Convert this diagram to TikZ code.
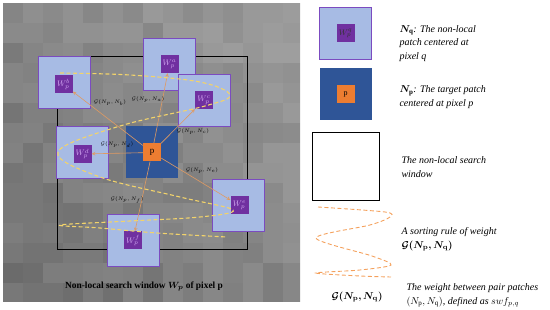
\documentclass[tikz,border=0pt]{standalone}
\usepackage{amsmath,amssymb,bm}
\usepackage{fontspec}
\setmainfont{Liberation Serif}
\usepackage{xcolor}
\usepackage{tikz}
\usetikzlibrary{arrows, positioning, calc}

\definecolor{patchblue}{HTML}{A7BBE4}
\definecolor{patchedge}{HTML}{7B4BC0}
\definecolor{innerpurple}{HTML}{7030A0}
\definecolor{targetblue}{HTML}{2F5597}
\definecolor{pixorange}{HTML}{ED7D31}
\definecolor{linkorange}{HTML}{E09A62}
\definecolor{sortyellow}{HTML}{F2D36B}
\definecolor{sortorange}{HTML}{F4A15D}
\definecolor{wlabel}{HTML}{D2A8F2}

\begin{document}
\begin{tikzpicture}[x=1pt, y=-1pt, node distance=1cm, font=\fontsize{10}{13.5}\selectfont]
    \tikzstyle{patch} = [rectangle, draw=patchedge, line width=0.8pt, fill=patchblue, minimum size=52pt, inner sep=0pt]
    \tikzstyle{target} = [rectangle, fill=targetblue, minimum size=52pt, inner sep=0pt]
    \tikzstyle{pix} = [rectangle, fill=innerpurple, minimum size=18pt, inner sep=0pt, font=\fontsize{8}{8}\selectfont, text=wlabel]
    \tikzstyle{arrow} = [draw=linkorange, line width=0.6pt, ->, >=stealth]
    \tikzstyle{weight} = [font=\fontsize{5}{5}\selectfont, text=black]
    \tikzstyle{sorting} = [line width=1.1pt, dash pattern=on 4pt off 2.5pt]
    \tikzstyle{legtext} = [anchor=west, align=left, font=\fontsize{10}{13.5}\selectfont\itshape]

    \useasboundingbox (0,0) rectangle (550,310);

    % noisy grey image behind the search window
    \pgfmathsetseed{11}
    \begin{scope}
        \clip (3,3) rectangle (300,302);
        \foreach \i in {0,...,14} {
            \foreach \j in {0,...,14} {
                \pgfmathtruncatemacro{\shade}{48+0.6*(\j-\i)+random(-3,3)}
                \fill[black!\shade] (3+20*\i,3+20*\j) rectangle ++(20,20);
            }
        }
    \end{scope}

    % search window and patches
    \node (window) [draw=black, line width=0.8pt, minimum width=190pt, minimum height=193pt] at (152,152.5) {};
    \node (Na) [patch] at (169.5,64) {};
    \node (Nb) [patch] at (64.5,82) {};
    \node (Nc) [patch] at (204,100) {};
    \node (Nd) [patch] at (82.5,152.5) {};
    \node (Np) [target] at (152,152.5) {};
    \node (Ne) [patch] at (238,205) {};
    \node (Nf) [patch] at (133,240.5) {};

    \node (wa) [pix] at (Na) {$W_p^a$};
    \node (wb) [pix] at (63.5,84.5) {$W_p^b$};
    \node (wc) [pix] at (Nc) {$W_p^c$};
    \node (wd) [pix] at (82.5,154) {$W_p^d$};
    \node (we) [pix] at (239.5,205.5) {$W_p^e$};
    \node (wf) [pix] at (Nf) {$W_p^f$};
    \node (p) [pix, fill=pixorange, text=black, font=\fontsize{9}{9}\selectfont] at (Np) {p};

    \draw [arrow] (p) -- (wa);
    \draw [arrow] (p) -- (wb);
    \draw [arrow] (p) -- (wc);
    \draw [arrow] (p) -- (wd);
    \draw [arrow] (p) -- (we);
    \draw [arrow] (p) -- (wf);

    \node (ga) [weight] at (148,100) {$\mathcal{G}(N_p,N_a)$};
    \node (gb) [weight] at (110,103) {$\mathcal{G}(N_p,N_b)$};
    \node (gc) [weight] at (193,132) {$\mathcal{G}(N_p,N_c)$};
    \node (gd) [weight] at (117,145) {$\mathcal{G}(N_p,N_d)$};
    \node (ge) [weight] at (202,171) {$\mathcal{G}(N_p,N_e)$};
    \node (gf) [weight] at (127,200) {$\mathcal{G}(N_p,N_f)$};

    % sorting order through the patches
    \draw [sorting, sortyellow] plot[smooth, tension=0.6] coordinates {(60,73) (130,75) (200,82) (230,95) (205,106) (120,126) (58,152) (100,177) (180,197) (233,210) (200,217) (130,221) (60,225) (100,228) (157,233) (227,237)};

    \node (caption) at (144,286) {\fontsize{9.4}{11}\selectfont\bfseries Non-local search window $\bm{W_p}$ of pixel p};

    % legend
    \node (legq) [patch] at (345.5,33.5) {};
    \node (legwq) [pix, text=black!80] at (legq) {$W_p^q$};
    \node (legp) [target, below=8pt of legq] {};
    \node (legpp) [pix, fill=pixorange, text=black] at (legp) {p};
    \node (legwin) [draw=black, line width=0.8pt, minimum width=67pt, minimum height=68pt, below=12pt of legp] {};

    \node (txtq) [legtext] at (396,43.5) {$\bm{N}_{\mathbf q}$: The non-local\\patch centered at\\pixel q};
    \node (txtp) [legtext] at (396,97) {$\bm{N}_{\mathbf p}$: The target patch\\centered at pixel p};
    \node (txtwin) [legtext] at (398,167) {The non-local search\\window};

    \draw [sorting, sortorange, line width=0.9pt] plot[smooth, tension=0.5] coordinates {(318,207) (385,212) (390,217) (370,225) (316,238) (372,256) (391,265) (360,270) (316,273) (360,276) (391,277)};
    \node (txtsort) [legtext] at (398,239.5) {A sorting rule of weight\\$\bm{\mathcal{G}(N_{\mathbf p},N_{\mathbf q})}$};

    \node (legG) at (357,297) {$\bm{\mathcal{G}(N_{\mathbf p},N_{\mathbf q})}$};
    \node (txtG) [legtext] at (403,295.5) {The weight between pair patches\\$(N_{\mathrm p},N_{\mathrm q})$, defined as $swf_{p,q}$};
\end{tikzpicture}
\end{document}
